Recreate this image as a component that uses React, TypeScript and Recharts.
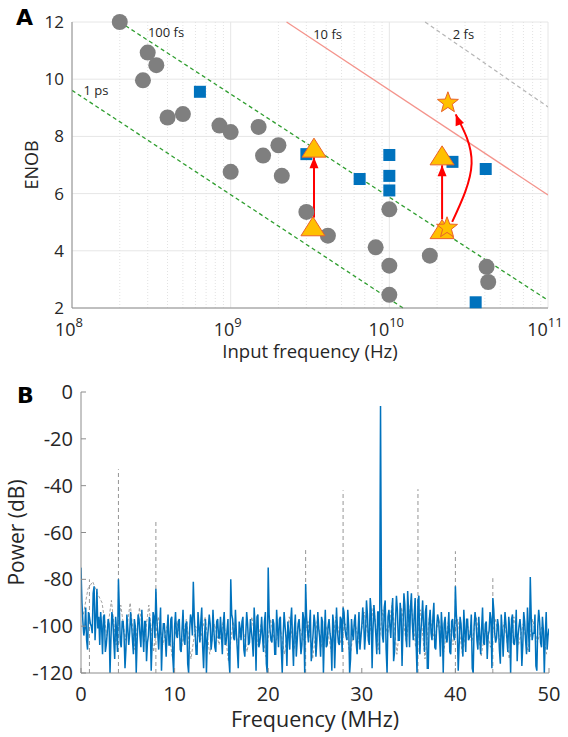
import React from 'react';
import {
  ComposedChart,
  Line,
  Scatter,
  XAxis,
  YAxis,
  CartesianGrid,
  ReferenceLine,
  ReferenceDot,
} from 'recharts';

const FONT = '"Open Sans", sans-serif';
const TEXT = '#262626';
const AXIS = '#8c8c8c';

// ---------- Panel A: ENOB vs input frequency ----------
const circleFreq = [2.0e8, 3.0e8, 3.4e8, 2.8e8, 4.0e8, 5.0e8, 8.5e8, 1.0e9, 1.5e9, 1.6e9, 2.0e9, 1.0e9, 2.1e9, 3.0e9, 4.1e9, 8.2e9, 1.0e10, 1.0e10, 1.0e10, 1.8e10, 4.1e10, 4.2e10];
const circleEnob = [12.0, 10.93, 10.49, 9.96, 8.66, 8.78, 8.38, 8.15, 8.33, 7.33, 7.69, 6.76, 6.62, 5.36, 4.53, 4.12, 5.45, 3.48, 2.46, 3.83, 3.44, 2.91];

const squareFreq = [6.4e8, 3.0e9, 6.5e9, 1.0e10, 1.0e10, 1.0e10, 2.5e10, 4.05e10, 3.5e10];
const squareEnob = [9.56, 7.38, 6.51, 7.35, 6.62, 6.11, 7.11, 6.86, 2.2];

const triangleFreq = [3.35e9, 3.3e9, 2.15e10, 2.15e10];
const triangleEnob = [7.59, 4.84, 7.32, 4.74];

const starFreq = [2.34e10, 2.31e10];
const starEnob = [9.21, 4.84];

// jitter limit lines, end points
const line1ps = [{ x: 1e8, y: 9.61 }, { x: 1.22e10, y: 2 }];
const line100fs = [{ x: 2e8, y: 12 }, { x: 1e11, y: 2.27 }];
const line10fs = [{ x: 2.25e9, y: 12 }, { x: 1e11, y: 5.95 }];
const line2fs = [{ x: 1.68e10, y: 12 }, { x: 1e11, y: 9.03 }];

// improvement arrows
const arrowLeft = [{ x: 3.35e9, y: 5.16 }, { x: 3.35e9, y: 7.27 }];
const arrowRight = [{ x: 2.15e10, y: 5.1 }, { x: 2.15e10, y: 6.99 }];
const arrowCurve = [{ x: 2.49e10, y: 5.01 }, { x: 3.3e10, y: 7.05 }, { x: 2.62e10, y: 8.77 }];

const jitterLabels = [
  { x: 3.01e8, y: 11.47, text: '100 fs' },
  { x: 1.18e8, y: 9.44, text: '1 ps' },
  { x: 3.31e9, y: 11.42, text: '10 fs' },
  { x: 2.51e10, y: 11.42, text: '2 fs' },
];

const decadeTicks = [1e8, 1e9, 1e10, 1e11];
const minorFreqs = [
  2e8, 3e8, 4e8, 5e8, 6e8, 7e8, 8e8, 9e8,
  2e9, 3e9, 4e9, 5e9, 6e9, 7e9, 8e9, 9e9,
  2e10, 3e10, 4e10, 5e10, 6e10, 7e10, 8e10, 9e10,
];
const enobTicks = [2, 4, 6, 8, 10, 12];

// ---------- Panel B: power spectrum ----------
// blue trace, odd samples: every 0.2 MHz starting at 0.1 MHz
const blueNoiseOdd = [
  -90, -104, -92, -110, -96, -100, -86, -106, -84, -96, -94, -112, -95, -108, -97, -120, -94, -106, -96, -111, -93, -109, -98, -118, -95,
  -108, -94, -106, -97, -120, -95, -104, -93, -111, -98, -107, -96, -119, -94, -105, -97, -110, -92, -106, -99, -113, -95, -108, -96, -120,
  -94, -105, -97, -111, -93, -108, -98, -120, -95, -104, -96, -112, -94, -107, -92, -118, -97, -106, -95, -110, -93, -109, -98, -105, -96,
  -112, -94, -107, -97, -120, -95, -105, -93, -110, -98, -106, -96, -113, -94, -108, -97, -106, -92, -119, -95, -107, -96, -111, -94, -120,
  -95, -106, -97, -112, -93, -109, -96, -120, -94, -105, -98, -110, -92, -117, -95, -106, -97, -112, -94, -120, -96, -107, -93, -109, -95,
  -113, -94, -105, -96, -120, -93, -108, -97, -106, -95, -118, -92, -107, -96, -111, -94, -104, -93, -120, -97, -106, -95, -112, -94, -105,
  -92, -110, -89, -106, -88, -118, -91, -104, -94, -112, -90, -107, -89, -120, -93, -105, -88, -111, -87, -106, -90, -117, -86, -104, -85,
  -109, -86, -106, -88, -120, -87, -103, -89, -111, -91, -118, -93, -106, -90, -110, -95, -104, -94, -120, -96, -107, -94, -112, -97, -106,
  -95, -119, -96, -107, -93, -111, -97, -105, -95, -120, -94, -106, -96, -112, -92, -108, -98, -104, -94, -118, -93, -107, -97, -110, -95,
  -113, -94, -105, -96, -120, -95, -108, -93, -104, -97, -117, -94, -106, -92, -111, -96, -103, -95, -119, -93, -107, -96, -120, -94, -104,
];
// blue trace, even samples: every 0.2 MHz starting at 0.2 MHz
const blueNoiseEven = [
  -98, -101, -106, -94, -99, -103, -92, -97, -101, -108, -100, -96, -111, -103, -99, -105, -97, -114, -102, -100, -107, -98, -104, -110, -101,
  -103, -99, -112, -100, -106, -97, -109, -102, -98, -115, -104, -100, -107, -96, -110, -103, -101, -119, -99, -105, -102, -108, -97, -113, -100,
  -104, -98, -110, -101, -106, -99, -116, -102, -97, -107, -103, -112, -100, -98, -109, -104, -120, -101, -99, -106, -102, -111, -97, -105, -103,
  -99, -108, -102, -114, -100, -97, -106, -103, -118, -101, -98, -110, -104, -99, -107, -102, -113, -100, -96, -109, -103, -105, -98, -116, -101,
  -102, -107, -99, -112, -101, -97, -110, -104, -100, -117, -103, -98, -106, -101, -113, -99, -104, -108, -97, -111, -102, -100, -115, -103, -99,
  -106, -101, -113, -98, -104, -109, -100, -103, -119, -99, -105, -102, -108, -97, -112, -101, -106, -100, -114, -103, -98, -107, -102, -110, -100,
  -97, -103, -95, -108, -93, -101, -97, -112, -94, -99, -104, -92, -110, -96, -100, -94, -115, -98, -93, -106, -95, -101, -91, -109, -94,
  -92, -99, -95, -107, -93, -112, -97, -100, -94, -118, -98, -103, -96, -109, -100, -97, -113, -101, -99, -105, -102, -111, -98, -104, -100,
  -101, -108, -99, -113, -102, -97, -106, -103, -118, -100, -98, -110, -104, -101, -107, -99, -114, -102, -97, -109, -103, -105, -100, -116, -102,
  -103, -99, -111, -101, -97, -107, -104, -115, -100, -102, -108, -98, -112, -101, -99, -106, -103, -117, -100, -98, -109, -102, -104, -110, -101,
];
const blueSpurs: [number, number][] = [
  [0, -75], [1.4, -83], [4, -80], [8, -84], [12, -81], [16, -80], [20, -75], [24, -82],
  [28, -92], [32, -6], [36, -89], [40, -83], [44, -88], [48, -79],
];

// gray (dashed) trace, samples every 0.5 MHz starting at 0.25 MHz
const grayNoise = [
  -95, -84, -81, -86, -90, -104, -89, -108, -91, -106, -90, -110, -92, -107, -91, -111, -96, -108, -99, -113,
  -98, -109, -97, -114, -100, -106, -96, -112, -99, -108, -97, -115, -98, -107, -100, -111, -96, -109, -99, -113,
  -97, -108, -100, -112, -96, -110, -99, -106, -98, -114, -97, -109, -100, -111, -96, -107, -99, -113, -98, -108,
  -94, -106, -91, -110, -93, -104, -90, -112, -92, -107, -89, -109, -93, -114, -95, -106, -97, -111, -98, -108,
  -97, -112, -99, -107, -96, -113, -100, -109, -97, -106, -98, -114, -96, -108, -99, -111, -97, -107, -100, -112,
];
const graySpurs: [number, number][] = [
  [0.9, -80], [4, -33], [8, -55.5], [24, -67.5], [28, -42], [36, -41.5], [40, -68], [44, -79.5],
];

const powerTicks = [-120, -100, -80, -60, -40, -20, 0];
const freqTicks = [0, 10, 20, 30, 40, 50];

const spurFreqs = new Set(blueSpurs.map(([x]) => x));
const blueTrace = [
  ...blueNoiseOdd.map((y, i) => ({ x: 0.1 + i * 0.2, y })),
  ...blueNoiseEven.map((y, i) => ({ x: Math.round((0.2 + i * 0.2) * 10) / 10, y })).filter((p) => !spurFreqs.has(p.x)),
  ...blueSpurs.map(([x, y]) => ({ x, y })),
].sort((a, b) => a.x - b.x);
const grayTrace = grayNoise.map((y, i) => ({ x: 0.25 + i * 0.5, y }));
const graySpurLines = graySpurs.flatMap(([x, y]) => [
  { x, y: -120 },
  { x, y },
  { x, y: null as number | null },
]);

const toPoints = (xs: number[], ys: number[]) => xs.map((x, i) => ({ x, y: ys[i] }));

// ---------- shapes ----------
const CircleShape = (p: any) => <circle cx={p.cx} cy={p.cy} r={8} fill="#7f7f7f" />;
const SquareShape = (p: any) => <rect x={p.cx - 6} y={p.cy - 6} width={12} height={12} fill="#0072BD" />;
const TriangleShape = (p: any) => (
  <polygon
    points={`${p.cx},${p.cy - 10} ${p.cx + 12},${p.cy + 9} ${p.cx - 12},${p.cy + 9}`}
    fill="#FFC000"
    stroke="#E9622B"
    strokeWidth={1}
  />
);
const StarShape = (p: any) => {
  const pts: string[] = [];
  for (let k = 0; k < 10; k++) {
    const r = k % 2 === 0 ? 11 : 4.6;
    const a = -Math.PI / 2 + (k * Math.PI) / 5;
    pts.push(`${p.cx + r * Math.cos(a)},${p.cy + 1 + r * Math.sin(a)}`);
  }
  return <polygon points={pts.join(' ')} fill="#FFC000" stroke="#E9622B" strokeWidth={1} />;
};

const arrowHead = (last: number, angle: number) => (p: any) => {
  if (p.index !== last) return <g key={`d${p.index}`} />;
  return (
    <polygon
      key={`d${p.index}`}
      points="0,0 4.5,11 -4.5,11"
      fill="#ff0000"
      transform={`translate(${p.cx},${p.cy}) rotate(${angle})`}
    />
  );
};

const PowTick = (p: any) => {
  const exp = Math.round(Math.log10(p.payload.value));
  return (
    <text x={p.x - 3} y={p.y + 28} textAnchor="middle" fontFamily={FONT} fontSize={18} fill={TEXT}>
      10
      <tspan dy={-9} fontSize={13}>
        {exp}
      </tspan>
    </text>
  );
};

const vLabel = (text: string, cx: number, size: number) => (p: any) => {
  const vb = p.viewBox;
  const cy = vb.y + vb.height / 2;
  return (
    <text
      x={cx}
      y={cy}
      transform={`rotate(-90 ${cx} ${cy})`}
      textAnchor="middle"
      dominantBaseline="central"
      fontFamily={FONT}
      fontSize={size}
      fill={TEXT}
    >
      {text}
    </text>
  );
};

const hLabel = (text: string, dy: number, size: number) => (p: any) => {
  const vb = p.viewBox;
  return (
    <text x={vb.x + vb.width / 2} y={vb.y + dy} textAnchor="middle" fontFamily={FONT} fontSize={size} fill={TEXT}>
      {text}
    </text>
  );
};

const PanelA = () => (
  <ComposedChart width={568} height={370} margin={{ top: 22, right: 20, bottom: 0, left: 0 }}>
    <CartesianGrid stroke="#e6e6e6" />
    <XAxis
      dataKey="x"
      type="number"
      scale="log"
      domain={[1e8, 1e11]}
      ticks={decadeTicks}
      interval={0}
      allowDataOverflow
      height={62}
      tickSize={0}
      tickMargin={0}
      tickLine={false}
      axisLine={{ stroke: AXIS }}
      tick={PowTick}
      label={{ content: hLabel('Input frequency (Hz)', 50, 18.5) }}
    />
    <XAxis
      xAxisId="top"
      orientation="top"
      type="number"
      scale="log"
      domain={[1e8, 1e11]}
      ticks={decadeTicks}
      height={0}
      tick={false}
      tickLine={false}
      axisLine={{ stroke: AXIS }}
    />
    <YAxis
      dataKey="y"
      type="number"
      domain={[2, 12]}
      ticks={enobTicks}
      interval={0}
      width={72}
      tickSize={0}
      tickMargin={8}
      tickLine={false}
      axisLine={{ stroke: AXIS }}
      tick={{ fontFamily: FONT, fontSize: 17, fill: TEXT }}
      label={{ content: vLabel('ENOB', 31, 18) }}
    />
    <YAxis
      yAxisId="right"
      orientation="right"
      type="number"
      domain={[2, 12]}
      ticks={enobTicks}
      width={0}
      tick={false}
      tickSize={-4}
      axisLine={{ stroke: AXIS }}
      tickLine={{ stroke: AXIS }}
    />
    {minorFreqs.map((f) => (
      <ReferenceLine key={f} x={f} stroke="#e2e2e2" strokeDasharray="1 2" />
    ))}

    <Line data={line1ps} dataKey="y" stroke="#2f9e2f" strokeWidth={1.3} strokeDasharray="4 3" dot={false} activeDot={false} isAnimationActive={false} />
    <Line data={line100fs} dataKey="y" stroke="#2f9e2f" strokeWidth={1.3} strokeDasharray="4 3" dot={false} activeDot={false} isAnimationActive={false} />
    <Line data={line10fs} dataKey="y" stroke="#f4948c" strokeWidth={1.3} dot={false} activeDot={false} isAnimationActive={false} />
    <Line data={line2fs} dataKey="y" stroke="#b5b5b5" strokeWidth={1.2} strokeDasharray="4 3" dot={false} activeDot={false} isAnimationActive={false} />

    {jitterLabels.map((l) => (
      <ReferenceDot
        key={l.text}
        x={l.x}
        y={l.y}
        r={0}
        shape={(p: any) => (
          <text x={p.cx} y={p.cy} fontFamily={FONT} fontSize={13} fill={TEXT}>
            {l.text}
          </text>
        )}
      />
    ))}

    <Scatter data={toPoints(circleFreq, circleEnob)} shape={CircleShape} isAnimationActive={false} />
    <Scatter data={toPoints(squareFreq, squareEnob)} shape={SquareShape} isAnimationActive={false} />
    <Scatter data={toPoints(triangleFreq, triangleEnob)} shape={TriangleShape} isAnimationActive={false} />
    <Scatter data={toPoints(starFreq, starEnob)} shape={StarShape} isAnimationActive={false} />

    <Line data={arrowLeft} dataKey="y" stroke="#ff0000" strokeWidth={2} dot={arrowHead(1, 0)} activeDot={false} isAnimationActive={false} />
    <Line data={arrowRight} dataKey="y" stroke="#ff0000" strokeWidth={2} dot={arrowHead(1, 0)} activeDot={false} isAnimationActive={false} />
    <Line data={arrowCurve} dataKey="y" type="natural" stroke="#ff0000" strokeWidth={2} dot={arrowHead(2, -22)} activeDot={false} isAnimationActive={false} />
  </ComposedChart>
);

const PanelB = () => (
  <ComposedChart width={568} height={367} margin={{ top: 22, right: 19, bottom: 0, left: 0 }}>
    <XAxis
      dataKey="x"
      type="number"
      domain={[0, 50]}
      ticks={freqTicks}
      interval={0}
      allowDataOverflow
      height={64}
      tickSize={-5}
      tickMargin={19}
      axisLine={{ stroke: AXIS }}
      tickLine={{ stroke: AXIS }}
      tick={{ fontFamily: FONT, fontSize: 20, fill: TEXT }}
      label={{ content: hLabel('Frequency (MHz)', 54, 21.5) }}
    />
    <XAxis
      xAxisId="top"
      orientation="top"
      type="number"
      domain={[0, 50]}
      ticks={freqTicks}
      height={0}
      tick={false}
      tickSize={-5}
      axisLine={{ stroke: AXIS }}
      tickLine={{ stroke: AXIS }}
    />
    <YAxis
      dataKey="y"
      type="number"
      domain={[-120, 0]}
      ticks={powerTicks}
      interval={0}
      allowDataOverflow
      width={81}
      tickSize={-5}
      tickMargin={13}
      axisLine={{ stroke: AXIS }}
      tickLine={{ stroke: AXIS }}
      tick={{ fontFamily: FONT, fontSize: 20, fill: TEXT }}
      label={{ content: vLabel('Power (dB)', 16, 21) }}
    />
    <YAxis
      yAxisId="right"
      orientation="right"
      type="number"
      domain={[-120, 0]}
      ticks={powerTicks}
      width={0}
      tick={false}
      tickSize={-5}
      axisLine={{ stroke: AXIS }}
      tickLine={{ stroke: AXIS }}
    />
    <Line data={grayTrace} dataKey="y" stroke="#8a8a8a" strokeWidth={0.8} strokeDasharray="3 2" dot={false} activeDot={false} isAnimationActive={false} />
    <Line data={graySpurLines} dataKey="y" stroke="#8a8a8a" strokeWidth={0.9} strokeDasharray="4 3" dot={false} activeDot={false} isAnimationActive={false} />
    <Line data={blueTrace} dataKey="y" stroke="#0072BD" strokeWidth={1.5} dot={false} activeDot={false} isAnimationActive={false} />
  </ComposedChart>
);

export default function App() {
  return (
    <div style={{ position: 'absolute', left: 0, top: 0, width: 568, height: 737, background: '#fff' }}>
      <div style={{ position: 'absolute', left: 0, top: 0 }}>
        <PanelA />
      </div>
      <div style={{ position: 'absolute', left: 0, top: 370 }}>
        <PanelB />
      </div>
      <svg width={568} height={737} style={{ position: 'absolute', left: 0, top: 0, pointerEvents: 'none' }}>
        <text x={16} y={25} fontFamily='"DejaVu Sans", sans-serif' fontWeight={900} fontSize={22} fill="#000">
          A
        </text>
        <text x={17} y={403} fontFamily='"DejaVu Sans", sans-serif' fontWeight={900} fontSize={22} fill="#000">
          B
        </text>
      </svg>
    </div>
  );
}
